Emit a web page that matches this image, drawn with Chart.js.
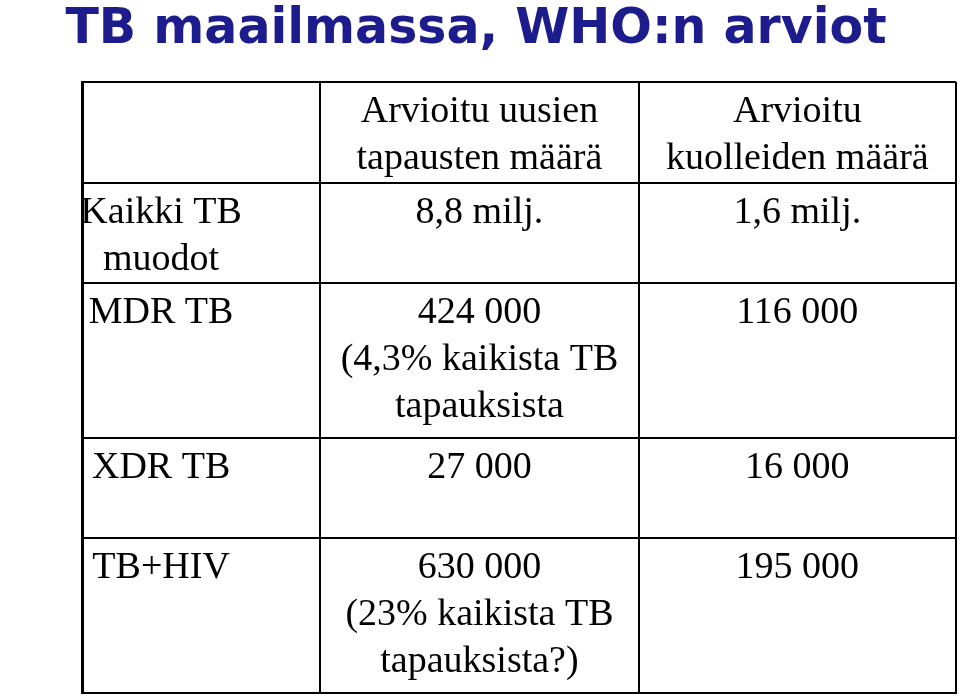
<!DOCTYPE html>
<html>
<head>
<meta charset="utf-8">
<script src="https://cdn.jsdelivr.net/npm/chart.js@4"></script>
<style>
  html, body { margin: 0; padding: 0; background: #fff; }
  #wrap { width: 960px; height: 697px; }
</style>
</head>
<body>
<div id="wrap"><canvas id="tbTable"></canvas></div>
<script>
const title = 'TB maailmassa, WHO:n arviot';
const columnHeaders = [[], ['Arvioitu uusien', 'tapausten määrä'], ['Arvioitu', 'kuolleiden määrä']];
const rowLabels = [['Kaikki TB', 'muodot'], ['MDR TB'], ['XDR TB'], ['TB+HIV']];
const newCases = [['8,8 milj.'], ['424 000', '(4,3% kaikista TB', 'tapauksista'], ['27 000'], ['630 000', '(23% kaikista TB', 'tapauksista?)']];
const deaths = [['1,6 milj.'], ['116 000'], ['16 000'], ['195 000']];
// table cell boundaries in table units (columns left->right, rows top->bottom)
const colEdges = [0, 238, 556, 873];
const rowEdges = [0, 101, 201, 356, 456, 611];
const labelCenter = 79; // row labels sit a bit left of column 1 centre
const lineGap = 47;

const tablePlugin = {
  id: 'tableText',
  afterDraw(chart) {
    const ctx = chart.ctx, xs = chart.scales.x, ys = chart.scales.y;
    ctx.save();
    ctx.fillStyle = '#1c1c8c';
    ctx.font = 'bold 49px "DejaVu Sans"';
    ctx.textAlign = 'center';
    ctx.textBaseline = 'middle';
    ctx.fillText(title, 476, 30);

    ctx.fillStyle = '#000';
    ctx.font = '38px "Liberation Serif"';
    function cell(lines, xVal, rowIdx) {
      const top = ys.getPixelForValue(rowEdges[rowIdx]);
      lines.forEach((t, i) => ctx.fillText(t, xs.getPixelForValue(xVal), top + 30 + i * lineGap));
    }
    const mid = c => (colEdges[c] + colEdges[c + 1]) / 2;
    cell(columnHeaders[1], mid(1), 0);
    cell(columnHeaders[2], mid(2), 0);
    rowLabels.forEach((l, r) => {
      cell(l, labelCenter, r + 1);
      cell(newCases[r], mid(1), r + 1);
      cell(deaths[r], mid(2), r + 1);
    });
    ctx.restore();
  }
};

new Chart(document.getElementById('tbTable'), {
  type: 'scatter',
  data: { datasets: [{ data: [] }] },
  options: {
    responsive: true,
    maintainAspectRatio: false,
    animation: false,
    layout: { padding: { left: 82, right: 4, top: 82, bottom: 4 } },
    plugins: { legend: { display: false }, tooltip: { enabled: false } },
    scales: {
      x: {
        type: 'linear', min: 0, max: 873,
        afterBuildTicks: s => { s.ticks = colEdges.map(v => ({ value: v })); },
        ticks: { display: false },
        grid: { color: '#000', lineWidth: 2, drawTicks: false },
        border: { color: '#000', width: 2 }
      },
      y: {
        type: 'linear', min: 0, max: 611, reverse: true,
        afterBuildTicks: s => { s.ticks = rowEdges.map(v => ({ value: v })); },
        ticks: { display: false },
        grid: { color: '#000', lineWidth: 2, drawTicks: false },
        border: { color: '#000', width: 3 }
      }
    }
  },
  plugins: [tablePlugin]
});
</script>
</body>
</html>
